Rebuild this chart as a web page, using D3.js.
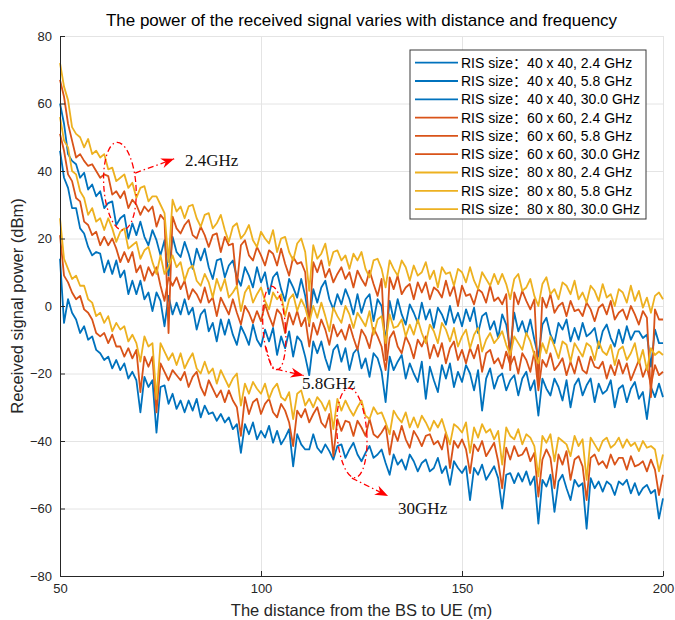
<html>

<head>
    <script src="https://d3js.org/d3.v7.min.js"></script>

    <style>
        body {
            margin: 0;
            background: #fff;
        }

        text {
            font-family: "Liberation Sans", "Noto Sans CJK SC", Arial, Helvetica, sans-serif;
        }

        .gridlines line {
            stroke: #e4e4e4;
        }

        .gridlines .domain {
            stroke: none;
        }

        .axis text {
            fill: #262626;
            font-size: 13px;
        }

        .axis line,
        .axis path {
            stroke: #262626;
        }
    </style>

</head>

<body>
    <svg id="chartArea" height="620" width="675" lang="zh-CN"></svg>
    <script>
        // distance from BS to UE (m), one sample per metre
        const distances = d3.range(50, 201);

        // received power (dBm) for each RIS size / frequency
        const p40_24 = [
            60, 54, 45, 43, 42, 38, 39.5, 34.5, 36, 32.5,
            34, 29, 30.5, 31, 24, 26, 27, 20, 24.5, 21,
            25, 20.5, 18, 22.5, 19.5, 15, 19.5, 9, 20.5, 16,
            14.5, 19, 15.5, 11, 17, 13.5, 17, 11.5, 8, 13.5,
            14, 8.5, 12, 13.5, 8.5, 6, 11.5, 9, 5.5, 11.5,
            7, 10, 3.5, 8.5, 10, 5, 1.5, 8, 5.5, 2.5,
            8, 3, -4.5, 5, 1, 5.5, 7.5, 2, -1, 3.5,
            0.5, 5, 2, -2.5, 3.5, -2, 2, 3.5, -4.5, 2,
            0, -10.5, 1.5, -4, 2, -2.5, -5.5, 0.5, -2, -5,
            1, -4, -1, -6.5, -0.5, -2.5, -5.5, 0, -5, -2,
            -6, -1, -4.5, -0.5, -8, -3, -2, -7, -4.5, -9.5,
            -2.5, -5.5, -13, -2, -7.5, -4.5, -8.5, -4, -10, -15,
            -5.5, -3.5, -8.5, -11, -5, -7, -4, -10.5, -6.5, -10,
            -5, -9, -8, -6.5, -12.5, -7.5, -5.5, -9.5, -12, -7,
            -11, -6, -10, -7.5, -7.5, -9.5, -8.5, -18, -7, -11,
            -11
        ];
        const p40_58 = [
            46, 38, 35, 29, 29, 23, 21.5, 17.5, 15, 16,
            15.5, 10, 13.5, 9.5, 13.5, 8.5, 10.5, 3.5, 7.5, 3.5,
            7.5, 2, 4, -1.5, 4, 1.5, -6, 3, -2.5, 1,
            -2.5, 2, -2.5, -0.5, -7, -2.5, -1, -7.5, -5, -10.5,
            -4, -8.5, -4, -8.5, -11.5, -6, -8.5, -11.5, -5.5, -10,
            -12, -7, -10.5, -6.5, -14.5, -9, -12.5, -7.5, -15, -9,
            -10.5, -15, -20.5, -10.5, -14, -10.5, -15.5, -19, -13, -11.5,
            -16.5, -12.5, -19, -14, -12.5, -18.5, -15.5, -21, -14, -15.5,
            -19.5, -28.5, -15, -19, -16.5, -14.5, -21.5, -17, -20, -22.5,
            -16.5, -27.5, -18, -22, -25.5, -17.5, -21.5, -17, -24, -19.5,
            -22.5, -17.5, -20, -25, -19, -31, -21.5, -18.5, -24.5, -21,
            -20, -25, -22, -20.5, -26.5, -21.5, -19.5, -25, -22, -32.5,
            -21.5, -24.5, -26.5, -21.5, -24, -28, -22, -30, -23.5, -21.5,
            -26.5, -23.5, -21.5, -28.5, -23, -26, -25, -22, -30, -24.5,
            -23.5, -28.5, -24.5, -22.5, -27.5, -25.5, -33.5, -24, -27, -23,
            -27
        ];
        const p40_30 = [
            14, -5, 2, -2, -4, -8, -6, -10, -9, -13,
            -14, -16, -15, -18.5, -16, -19, -17, -21.5, -19.5, -22,
            -31.5, -21, -24, -22, -37.5, -24, -23.5, -29, -26, -30.5,
            -28, -31.5, -28, -31, -27.5, -33, -29.5, -32, -31.5, -34,
            -32, -34.5, -33, -36.5, -35, -43.5, -35, -38, -34.5, -39.5,
            -37, -39, -35.5, -40.5, -37, -41, -39, -36.5, -47.5, -38,
            -41, -42.5, -42.5, -38, -42, -43.5, -41, -43, -45.5, -41.5,
            -41, -45, -42.5, -40.5, -44, -46, -43.5, -41.5, -45, -44,
            -42.5, -46.5, -50, -44, -47, -45.5, -48.5, -44, -46, -49,
            -46.5, -45.5, -49, -48, -45, -49.5, -47.5, -53, -46, -48,
            -49.5, -47.5, -57.5, -48, -50, -47, -51.5, -49.5, -47.5, -51,
            -60, -50, -49.5, -52.5, -49.5, -52, -49, -53, -50.5, -64.5,
            -51.5, -53.5, -50, -61, -52, -50, -54, -57.5, -51.5, -53.5,
            -52.5, -66, -51, -54, -52, -55, -52, -53, -56, -52,
            -53, -51.5, -55.5, -52.5, -56, -54, -53, -55.5, -54.5, -63,
            -57
        ];
        const p60_24 = [
            67, 62, 54, 49, 44, 45, 43, 41.5, 42, 40,
            38, 39, 38.5, 33, 34, 32, 34, 29, 31.5, 30,
            27, 29.5, 28, 29.5, 23.5, 27, 25.5, -8, 26.5, 23,
            21.5, 24, 25.5, 21, 20, 23.5, 21, 17.5, 21, 21.5,
            16, 20.5, 18, 18.5, 6, 18, 19.5, 15, 13.5, 17.5,
            15, 12, 16.5, 15.5, 12, 17, 12.5, 9, 14.5, 12.5,
            13, 10, -6, 13, 10, 13.5, 8.5, 11, 7, 9.5,
            11.5, 8, 10, 5.5, 10.5, 8, 6, 10.5, 6.5, 3,
            8, -16, 8.5, 5, 9, 3.5, 5.5, 6.5, 2, 7,
            4, 7, 2, 5.5, 4.5, 2.5, 7.5, 3, 6, 0,
            6, 3, 3.5, 0.5, 5, 4, 1, 6, 1.5, 2.5,
            0.5, 3.5, -19, 4, 0.5, 4.5, 1.5, -1, 2, -23,
            2.5, -0.5, 3.5, -2, 0, 1, -3, 1.5, -1.5, -1,
            -3, 1, -1, -4.5, -0.5, 0.5, -2.5, 1.5, -4, -2,
            -1, -4, 0, -2.5, -5.5, -1.5, -3.5, -27, -1, -4,
            -4
        ];
        const p60_58 = [
            51, 46, 39, 37, 32, 31, 25, 24, 21, 22,
            18, 20.5, 18, 20, 17, 13, 16, 13, 16, 10,
            12, 7.5, 11.5, 9, 11.5, 6, 1.5, 8.5, 6, 8.5,
            5, 7.5, 2, 5, 3.5, 1, 5.5, 1, 2.5, -3,
            2.5, 0, -2.5, 2, -2, -5.5, 0, -2, -5, -1.5,
            -4.5, 0.5, -3, -6, -1, -2.5, -8, -2, -5.5, -1.5,
            -6, -3.5, -12, -5, -8.5, -4, -7, -11.5, -5.5, -9,
            -7, -10, -5.5, -9.5, -13, -7, -9, -12.5, -6.5, -9,
            -12, -19, -9.5, -7.5, -12, -14, -9, -11.5, -15.5, -10,
            -12, -9, -15.5, -11.5, -15, -11, -17, -12.5, -10.5, -16,
            -13, -17, -12.5, -15.5, -11.5, -19.5, -14, -13, -17, -15.5,
            -18.5, -13.5, -17.5, -15, -20, -14, -16, -19.5, -13.5, -25,
            -16, -18, -14, -19, -17.5, -15.5, -20.5, -16.5, -20, -15,
            -19, -20, -15, -18, -18.5, -16.5, -21.5, -17.5, -20.5, -16,
            -20, -17, -22, -19, -16, -21, -18, -23.5, -17.5, -20.5,
            -19.5
        ];
        const p60_30 = [
            21, 9, 7, 4, 2, 3, -1, -2, -4, -8,
            -9, -8, -11, -8.5, -12, -12, -15, -12.5, -15.5, -13,
            -25.5, -15, -18, -15, -31.5, -17, -19.5, -22, -19, -20.5,
            -22, -19.5, -24, -21, -19.5, -24, -26.5, -22, -24.5, -27,
            -25, -28.5, -25, -28, -30, -38.5, -27, -32, -28.5, -27.5,
            -32, -29, -27.5, -31.5, -33, -29, -31, -34.5, -41.5, -31,
            -33, -30.5, -34.5, -32, -30, -34.5, -36, -32, -44.5, -33.5,
            -37, -34, -34.5, -38.5, -34, -36, -38.5, -33.5, -38, -39,
            -37.5, -35.5, -44, -37, -40, -35.5, -39.5, -42, -37, -39,
            -41.5, -38.5, -38, -41, -40, -42.5, -37.5, -48, -40, -42,
            -39.5, -42.5, -49.5, -41, -43, -40, -44.5, -42.5, -40.5, -46,
            -54, -42, -45.5, -41.5, -44.5, -44, -42, -46, -43.5, -56.5,
            -45.5, -42.5, -45, -54, -44, -47, -43, -51.5, -45.5, -44.5,
            -47.5, -57.5, -45, -44, -47, -46, -48, -44, -47, -45,
            -45, -48.5, -44.5, -47.5, -47, -46, -49, -45.5, -48.5, -56,
            -50
        ];
        const p80_24 = [
            72, 65, 61, 53, 51, 50, 47, 49.5, 45, 46,
            44, 45, 40.5, 41, 37, 38, 39, 35, 36.5, 32,
            35, 35.5, 31, 32.5, 32.5, 30, 27.5, 13, 31.5, 28,
            29.5, 26, 29.5, 30, 26, 23.5, 27, 27.5, 23, 24.5,
            27, 22.5, 19, 23.5, 24.5, 20, 21.5, 24, 19.5, 17.5,
            22, 20, 18.5, 22.5, 16, 20, 20.5, 16, 13.5, 18.5,
            20, 16, 4.5, 18, 14, 15.5, 18.5, 12, 16, 16.5,
            13.5, 15, 11, 15.5, 13.5, 16, 11, 8.5, 13.5, 14,
            11, 5.5, 13.5, 11, 9, 13.5, 11.5, 7.5, 12, 9,
            10, 13, 8, 10.5, 5.5, 11.5, 9.5, 10, 6, 11,
            10, 7, 11.5, 7.5, 5, 10, 8, 6, 9.5, 6.5,
            9.5, 6.5, 2, 8, 9.5, 4.5, 5.5, 8, 3, 0,
            6.5, 8.5, 3.5, 5, 2, 7, 6, 3.5, 7.5, 2,
            4, 1, 6, 4.5, 1.5, 6.5, 2.5, 3.5, 0, 5,
            4, 1, 6, 1.5, 4.5, -0.5, 2.5, -2, 3, 4,
            2
        ];
        const p80_58 = [
            56, 49, 47, 40, 39, 34, 32, 27, 29, 25,
            26, 22.5, 26, 23, 19, 22, 23, 17, 18, 19,
            14, 16.5, 17.5, 13, 9.5, 15, 9.5, 11.5, 15, 11.5,
            13, 7.5, 11, 12, 7.5, 6, 9.5, 7, 2.5, 8,
            4.5, 8, 2.5, 4, 6, -1.5, 4, 6, 1, 3.5,
            5.5, 1.5, -1, 4, 2, 3.5, -3, 2, 3.5, -1.5,
            2, -0.5, -5, 0, -3.5, 1, -3, -7.5, -0.5, -3,
            -5, 0, -2.5, -6.5, -2, -4, -6, -1.5, -8.5, -4,
            -3, -11, -2.5, -6.5, -6, -4, -9, -5.5, -8.5, -4,
            -8, -11, -5.5, -7.5, -11, -5, -7, -10.5, -6.5, -12,
            -9, -7, -12.5, -8.5, -6.5, -13.5, -10, -8, -11, -9.5,
            -7.5, -11.5, -14.5, -9, -11, -13, -8, -10.5, -14.5, -17,
            -11, -14, -9, -12, -15.5, -10.5, -11.5, -16.5, -11, -13,
            -15, -11, -12, -16, -10.5, -13.5, -14.5, -11.5, -17.5, -13,
            -12, -16, -14, -11, -17, -13, -19, -12.5, -14.5, -13.5,
            -14.5
        ];
        const p80_30 = [
            26, 14, 11, 8, 9, 6, 6, 2, 1, -3,
            -2, -5, -3, -7.5, -5, -7, -6, -10.5, -8.5, -11,
            -16.5, -9, -12, -11, -27.5, -11, -13.5, -16, -14, -17.5,
            -14, -18.5, -16, -14, -18.5, -20, -16.5, -20, -18.5, -23,
            -19, -21.5, -24, -21.5, -20, -29.5, -23, -26, -22.5, -24.5,
            -26, -23, -27.5, -24.5, -23, -27, -28, -25.5, -33.5, -26,
            -25, -29.5, -27.5, -30, -27, -28.5, -31, -28, -36.5, -27.5,
            -31, -28, -30.5, -32.5, -30, -28, -32.5, -33.5, -30, -32,
            -31.5, -34.5, -38, -31, -33, -34.5, -31.5, -36, -33, -36,
            -32.5, -34.5, -37, -34, -36, -33.5, -37.5, -41, -35, -36,
            -37.5, -34.5, -43.5, -36, -39, -35, -37.5, -36.5, -39.5, -37,
            -47, -36, -38.5, -39.5, -36.5, -41, -38, -39, -41.5, -50.5,
            -38.5, -40.5, -38, -46, -39, -40, -41, -44.5, -38.5, -41.5,
            -39.5, -51.5, -39, -41, -43, -40, -39, -42, -41, -39,
            -42, -39.5, -41.5, -40.5, -43, -40, -42, -41.5, -42.5, -49,
            -44
        ];

        const seriesValues = [p40_24, p40_58, p40_30, p60_24, p60_58, p60_30, p80_24, p80_58, p80_30];
        const seriesNames = [
            "RIS size：40 x 40, 2.4 GHz", "RIS size：40 x 40, 5.8 GHz", "RIS size：40 x 40, 30.0 GHz",
            "RIS size：60 x 60, 2.4 GHz", "RIS size：60 x 60, 5.8 GHz", "RIS size：60 x 60, 30.0 GHz",
            "RIS size：80 x 80, 2.4 GHz", "RIS size：80 x 80, 5.8 GHz", "RIS size：80 x 80, 30.0 GHz"
        ];
        const seriesColors = ["#0072BD", "#0072BD", "#0072BD", "#D95319", "#D95319", "#D95319", "#EDB120", "#EDB120", "#EDB120"];

        const xTicks = [50, 100, 150, 200];
        const yTicks = [-80, -60, -40, -20, 0, 20, 40, 60, 80];

        // red dash-dot ellipses and arrows marking each frequency group (data units)
        const groupMarks = [
            { label: "2.4GHz", cx: 64.9, cy: 35.5, rx: 4.0, ry: 13.0, arrow: [[68.7, 39.4], [78.4, 43.6]], tx: 81.1, ty: 41.5 },
            { label: "5.8GHz", cx: 103.3, cy: -6.5, rx: 2.8, ry: 12.4, arrow: [[101.2, -12.1], [102.7, -18.4], [110.6, -20.6]], tx: 110.2, ty: -24.6 },
            { label: "30GHz", cx: 122.6, cy: -37.6, rx: 3.7, ry: 13.3, arrow: [[122.6, -51.0], [131.6, -56.3]], tx: 134.1, ty: -61.6 }
        ];

        const svg = d3.select("#chartArea");
        const margins = { top: 36, right: 12, bottom: 44, left: 60 };
        const width = +svg.attr("width");
        const height = +svg.attr("height");

        const xScale = d3.scaleLinear().domain([50, 200]).range([margins.left, width - margins.right]);
        const yScale = d3.scaleLinear().domain([-80, 80]).range([height - margins.bottom, margins.top]);

        // gridlines
        svg.append("g")
            .attr("class", "gridlines")
            .attr("transform", `translate(0,${margins.top})`)
            .call(d3.axisBottom(xScale).tickValues(xTicks).tickFormat("")
                .tickSize(yScale(-80) - margins.top).tickSizeOuter(0));
        svg.append("g")
            .attr("class", "gridlines")
            .attr("transform", `translate(${xScale(200)},0)`)
            .call(d3.axisLeft(yScale).tickValues(yTicks).tickFormat("")
                .tickSize(xScale(200) - xScale(50)).tickSizeOuter(0));

        // lines
        const lineGenerator = d3.line()
            .x((d, i) => xScale(distances[i]))
            .y(d => yScale(d));

        svg.append("g")
            .selectAll("path")
            .data(seriesValues)
            .join("path")
            .attr("d", d => lineGenerator(d))
            .attr("fill", "none")
            .attr("stroke", (d, i) => seriesColors[i])
            .attr("stroke-width", 1.8)
            .attr("stroke-linejoin", "round");

        // axes (ticks pointing inward, box off)
        svg.append("g")
            .attr("class", "axis")
            .attr("transform", `translate(0,${yScale(-80)})`)
            .call(d3.axisBottom(xScale).tickValues(xTicks).tickSize(-5).tickSizeOuter(0).tickPadding(8));
        svg.append("g")
            .attr("class", "axis")
            .attr("transform", `translate(${xScale(50)},0)`)
            .call(d3.axisLeft(yScale).tickValues(yTicks).tickSize(-5).tickSizeOuter(0).tickPadding(8));

        // annotations
        const red = "#ff0000";
        const marks = svg.append("g");
        const markLine = d3.line().x(p => xScale(p[0])).y(p => yScale(p[1]));

        groupMarks.forEach(m => {
            const ecx = xScale(m.cx), ecy = yScale(m.cy);
            marks.append("ellipse")
                .attr("cx", ecx)
                .attr("cy", ecy)
                .attr("rx", xScale(m.cx + m.rx) - ecx)
                .attr("ry", ecy - yScale(m.cy + m.ry))
                .attr("transform", `rotate(-4,${ecx},${ecy})`)
                .attr("fill", "none")
                .attr("stroke", red)
                .attr("stroke-width", 1.3)
                .attr("stroke-dasharray", "6,3,1.5,3");

            marks.append("path")
                .attr("d", markLine(m.arrow))
                .attr("fill", "none")
                .attr("stroke", red)
                .attr("stroke-width", 1.3)
                .attr("stroke-dasharray", "6,3,1.5,3");

            const tip = m.arrow[m.arrow.length - 1];
            const prev = m.arrow[m.arrow.length - 2];
            const ang = Math.atan2(yScale(tip[1]) - yScale(prev[1]), xScale(tip[0]) - xScale(prev[0])) * 180 / Math.PI;
            marks.append("path")
                .attr("d", "M0,0 L-13,-5 L-9,0 L-13,5 Z")
                .attr("transform", `translate(${xScale(tip[0])},${yScale(tip[1])}) rotate(${ang})`)
                .attr("fill", red);

            marks.append("text")
                .attr("x", xScale(m.tx))
                .attr("y", yScale(m.ty))
                .style("font-family", "'Liberation Serif', 'DejaVu Serif', serif")
                .style("font-size", "17px")
                .attr("fill", "#111")
                .text(m.label);
        });

        // legend
        const legend = svg.append("g").attr("transform", "translate(410,50)");
        legend.append("rect")
            .attr("width", 236)
            .attr("height", 169)
            .attr("fill", "#fff")
            .attr("stroke", "#3a3a3a")
            .attr("stroke-width", 1);
        const rows = legend.selectAll(".row")
            .data(seriesNames)
            .join("g")
            .attr("class", "row")
            .attr("transform", (d, i) => `translate(0,${12.7 + i * 18.3})`);
        rows.append("line")
            .attr("x1", 5).attr("x2", 48)
            .attr("stroke", (d, i) => seriesColors[i])
            .attr("stroke-width", 1.8);
        rows.append("text")
            .attr("x", 51)
            .attr("dy", "0.35em")
            .style("font-size", "14px")
            .attr("fill", "#000")
            .text(d => d);

        // titles
        svg.append("text")
            .attr("x", (xScale(50) + xScale(200)) / 2)
            .attr("y", 26)
            .attr("text-anchor", "middle")
            .style("font-size", "17px")
            .attr("fill", "#000")
            .text("The power of the received signal varies with distance and frequency");
        svg.append("text")
            .attr("x", (xScale(50) + xScale(200)) / 2)
            .attr("y", 616)
            .attr("text-anchor", "middle")
            .style("font-size", "16.5px")
            .attr("fill", "#262626")
            .text("The distance from the BS to UE (m)");
        svg.append("text")
            .attr("transform", `translate(23,${(yScale(80) + yScale(-80)) / 2}) rotate(-90)`)
            .attr("text-anchor", "middle")
            .style("font-size", "16.5px")
            .attr("fill", "#262626")
            .text("Received signal power (dBm)");
    </script>
</body>

</html>
